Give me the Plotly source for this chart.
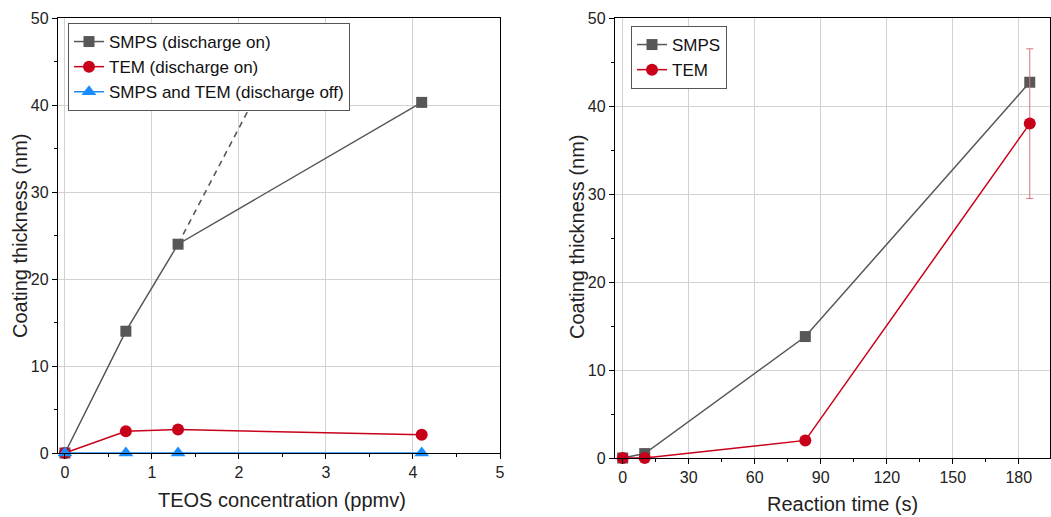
import plotly.graph_objects as go

# Left panel: coating thickness vs TEOS concentration
teos_ppmv = [0, 0.7, 1.3, 4.1]
smps_on = [0, 14.0, 24.0, 40.3]
tem_on = [0, 2.5, 2.7, 2.1]
discharge_off = [0, 0, 0, 0]
# linear extrapolation of the low-concentration SMPS trend
extrap_x = [1.3, 2.18]
extrap_y = [24.0, 40.8]

# Right panel: coating thickness vs reaction time
time_s = [0, 10, 83, 185]
smps_time = [0, 0.5, 13.8, 42.7]
tem_time = [0, 0, 2.0, 38.0]
tem_time_err = [0, 0, 0, 8.5]

GRAY = "#575757"
RED = "#c8001a"
BLUE = "#1a8cff"
FONT = "Liberation Sans, Arial, sans-serif"
W, H = 1051, 517

fig = go.Figure()

fig.add_trace(go.Scatter(x=extrap_x, y=extrap_y, mode="lines",
                         line=dict(color=GRAY, width=1.6, dash="6px,5px"),
                         showlegend=False, xaxis="x", yaxis="y"))
fig.add_trace(go.Scatter(x=teos_ppmv, y=smps_on, mode="lines+markers",
                         name="SMPS (discharge on)",
                         line=dict(color=GRAY, width=1.5),
                         marker=dict(symbol="square", size=11, color=GRAY),
                         cliponaxis=False, xaxis="x", yaxis="y", legend="legend"))
fig.add_trace(go.Scatter(x=teos_ppmv, y=tem_on, mode="lines+markers",
                         name="TEM (discharge on)",
                         line=dict(color=RED, width=1.5),
                         marker=dict(symbol="circle", size=12, color=RED),
                         cliponaxis=False, xaxis="x", yaxis="y", legend="legend"))
fig.add_trace(go.Scatter(x=teos_ppmv, y=discharge_off, mode="lines+markers",
                         name="SMPS and TEM (discharge off)",
                         line=dict(color=BLUE, width=1.5),
                         marker=dict(symbol="triangle-up", size=13, color=BLUE),
                         cliponaxis=False, xaxis="x", yaxis="y", legend="legend"))

fig.add_trace(go.Scatter(x=time_s, y=smps_time, mode="lines+markers",
                         name="SMPS",
                         line=dict(color=GRAY, width=1.5),
                         marker=dict(symbol="square", size=11, color=GRAY),
                         cliponaxis=False, xaxis="x2", yaxis="y2", legend="legend2"))
fig.add_trace(go.Scatter(x=time_s, y=tem_time, mode="lines+markers",
                         name="TEM",
                         line=dict(color=RED, width=1.5),
                         marker=dict(symbol="circle", size=12, color=RED),
                         error_y=dict(type="data", array=tem_time_err, visible=True,
                                      color="#e0707c", thickness=1, width=3.5),
                         cliponaxis=False, xaxis="x2", yaxis="y2", legend="legend2"))

axis_common = dict(
    showline=True, linecolor="black", linewidth=1.3, mirror=True,
    ticks="outside", ticklen=5, tickwidth=1.2, tickcolor="black",
    showgrid=True, gridcolor="#d2d2d2", gridwidth=1, zeroline=False,
    automargin=False,
    tickfont=dict(family=FONT, size=16, color="#222"),
)
minor_common = dict(ticks="outside", ticklen=3, tickwidth=1, tickcolor="black", showgrid=False)

legend_common = dict(xanchor="left", yanchor="top",
                     bgcolor="white", bordercolor="#555", borderwidth=1,
                     font=dict(family=FONT, size=17, color="#111"),
                     tracegroupgap=0, itemwidth=30)

title_font = dict(family=FONT, size=20, color="#222")
axis_titles = [
    dict(text="TEOS concentration (ppmv)", x=282 / W, y=1 - 500 / H, textangle=0),
    dict(text="Reaction time (s)", x=842 / W, y=1 - 504 / H, textangle=0),
    dict(text="Coating thickness (nm)", x=20 / W, y=1 - 236 / H, textangle=-90),
    dict(text="Coating thickness (nm)", x=577 / W, y=1 - 237 / H, textangle=-90),
]
annotations = [dict(xref="paper", yref="paper", xanchor="center", yanchor="middle",
                    showarrow=False, font=title_font, **t) for t in axis_titles]

fig.update_layout(
    width=W, height=H,
    margin=dict(l=0, r=0, t=0, b=0),
    paper_bgcolor="white", plot_bgcolor="white",
    font=dict(family=FONT, color="#222"),
    xaxis=dict(domain=[58 / W, 500 / W], range=[-0.08, 5], dtick=1, tick0=0,
               minor=dict(dtick=0.5, **minor_common), anchor="y", **axis_common),
    yaxis=dict(domain=[1 - 453 / H, 1 - 18 / H], range=[0, 50], dtick=10, tick0=0,
               minor=dict(dtick=5, **minor_common), anchor="x", **axis_common),
    xaxis2=dict(domain=[615 / W, 1050 / W], range=[-3.5, 194.2], dtick=30, tick0=0,
                minor=dict(dtick=15, **minor_common), anchor="y2", **axis_common),
    yaxis2=dict(domain=[1 - 458 / H, 1 - 18 / H], range=[0, 50], dtick=10, tick0=0,
                minor=dict(dtick=5, **minor_common), anchor="x2", **axis_common),
    legend=dict(x=68 / W, y=1 - 23 / H, **legend_common),
    legend2=dict(x=631 / W, y=1 - 26 / H, **legend_common),
    annotations=annotations,
)

fig.write_html("out.html")
